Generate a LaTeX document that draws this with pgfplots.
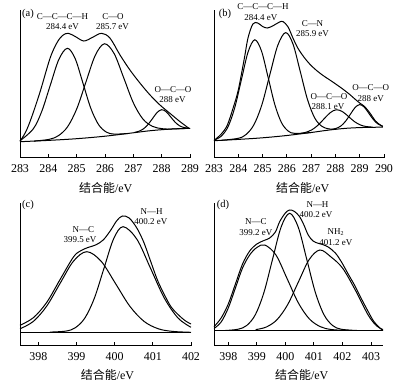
\documentclass[border=0pt]{standalone}
\usepackage{pgfplots}
\pgfplotsset{compat=1.18}
\usepackage{fontspec}
\setmainfont{Liberation Serif}
\newfontfamily\cjk{Noto Sans CJK SC}
\pgfplotsset{
  xps/.style={scale only axis, axis lines=left,
    axis line style={-, line width=1.0bp, black},
    ymin=0, ytick=\empty, xtick distance=1,
    tick align=inside, major tick length=4bp,
    every tick/.style={black, line width=0.9bp},
    xticklabel style={font=\fontsize{12}{12}\selectfont, yshift=-3bp},
    /pgf/number format/assume math mode=true,
    /pgf/number format/1000 sep={},
    anchor=south west, clip=false},
  c/.style={black, mark=none, smooth, tension=0.55, line width=1.0bp, solid},
}
\begin{document}
\begin{tikzpicture}
\path[use as bounding box] (0bp,0bp) rectangle (404bp,388bp);
% ---------------- (a)
\begin{axis}[xps, at={(20bp,230bp)}, width=170bp, height=148bp, xmin=283, xmax=289, ymax=148]
\addplot[c] coordinates {(283,16.3)(284,17.6)(285,19.3)(286,21.8)(287,25.2)(287.5,27.0)(288,28.3)(288.5,29.2)(289,29.7)};
\addplot[c] coordinates {(283.0,17.2)(283.47,29.2)(283.77,46.8)(284.07,72.9)(284.37,98.5)(284.67,109.7)(284.945,99.5)(285.22,75.05)(285.495,50)(285.77,33.5)(286.045,25.95)(286.32,23.9)(286.8,24.5)};
\addplot[c] coordinates {(283.5,16.95)(284.03,18.65)(284.355,22.3)(284.68,31.25)(285.005,49.3)(285.33,76.2)(285.655,102.55)(285.98,114.25)(286.32,104.5)(286.66,80.2)(287.0,55.2)(287.34,38.9)(287.68,31.6)(288.02,29.3)(288.36,29.0)(289,29.7)};
\addplot[c] coordinates {(287.04,25.55)(287.2,26.8)(287.36,29.2)(287.52,33.55)(287.68,39.55)(287.84,45.55)(288.0,48.3)(288.16,46.25)(288.32,41.0)(288.48,35.65)(288.64,32.05)(288.8,30.4)(288.96,29.85)};
\addplot[c] coordinates {(283.0,16.8)(283.2,26)(283.4,40)(283.71,66.3)(284.06,99.7)(284.3,115)(284.5,122.5)(284.7,124.7)(284.95,121.5)(285.25,117)(285.55,120.5)(285.88,124.7)(286.18,119.7)(286.53,103)(286.88,88)(287.24,74.7)(287.59,63)(287.94,53)(288.29,44.7)(288.65,36.3)(288.96,29.7)};
\end{axis}
% ---------------- (b)
\begin{axis}[xps, at={(214bp,230bp)}, width=170bp, height=148bp, xmin=283, xmax=290, ymax=148]
\addplot[c] coordinates {(283,17.3)(284,18.6)(285,20.2)(286,22.5)(287,25.5)(287.5,27.2)(288,28.7)(288.5,29.8)(289,30.4)(289.5,30.7)(289.95,30.8)};
\addplot[c] coordinates {(283.03,18.0)(283.305,22.0)(283.58,31.35)(283.855,50.4)(284.13,78.5)(284.405,106.15)(284.68,118.2)(284.955,107.0)(285.23,80.45)(285.505,53.35)(285.78,35.3)(286.055,26.95)(286.33,24.6)(287,25.5)};
\addplot[c] coordinates {(283.3,17.7)(284.0,19.7)(284.325,23.6)(284.65,33.55)(284.975,53.55)(285.3,83.4)(285.625,112.55)(285.95,125.4)(286.25,114.15)(286.55,86.65)(286.85,58.45)(287.15,39.9)(287.45,31.55)(287.75,29.05)(288.05,28.8)};
\addplot[c] coordinates {(286.53,24.3)(286.78,25.7)(287.03,28.2)(287.28,32.75)(287.53,39.1)(287.78,45.2)(288.03,48.25)(288.28,46.5)(288.53,41.65)(288.78,36.45)(289.03,33.0)(289.28,31.4)(289.53,30.9)};
\addplot[c] coordinates {(287.86,28.55)(288.05,29.8)(288.24,32.3)(288.43,37.15)(288.62,43.9)(288.81,50.5)(289.0,53.4)(289.19,50.8)(289.38,44.55)(289.57,38.2)(289.76,33.85)(289.95,31.8)};
\addplot[c] coordinates {(283.0,17.6)(283.3,24)(283.55,33)(283.8,51)(284.0,68)(284.25,99.7)(284.4,120)(284.6,134)(284.8,135)(285.0,131.5)(285.2,130)(285.45,132.5)(285.7,136)(285.85,136.3)(286.05,131)(286.25,120)(286.45,110)(286.7,101)(286.94,94)(287.2,88)(287.49,82.5)(287.8,77.5)(288.04,73.5)(288.3,69)(288.59,63.5)(288.8,59)(289.0,55)(289.2,51.5)(289.42,45)(289.65,37)(289.85,33)(289.95,31.5)};
\end{axis}
% ---------------- (c)
\begin{axis}[xps, at={(20bp,42bp)}, width=171bp, height=143bp, xmin=397.52, xmax=402, ymax=143]
\addplot[c] coordinates {(397.52,13.7)(402,13.7)};
\addplot[c] coordinates {(397.52,17.2)(397.87,24.6)(398.22,39.9)(398.57,62.6)(398.92,84.8)(399.27,94.3)(399.645,84.8)(400.02,62.6)(400.395,39.9)(400.77,24.6)(401.145,17.2)(401.52,14.6)(402,13.7)};
\addplot[c] coordinates {(398.3,13.9)(398.72,14.9)(398.97,18.3)(399.22,28.0)(399.47,48.0)(399.72,77.7)(399.97,106.9)(400.22,119.3)(400.58,106.9)(400.94,77.7)(401.30,48.0)(401.66,28.0)(402.0,18.7)};
\addplot[c] coordinates {(397.52,20.7)(397.87,28.3)(398.22,43.6)(398.57,66.5)(398.92,89)(399.1,95)(399.3,98.5)(399.5,101)(399.7,106)(399.9,116)(400.05,125)(400.2,130)(400.38,128)(400.58,118)(400.76,104)(400.94,85)(401.12,66)(401.30,51.5)(401.48,39)(401.66,31.5)(401.84,25.5)(402.0,22)};
\end{axis}
% ---------------- (d)
\begin{axis}[xps, at={(214bp,42bp)}, width=169bp, height=143bp, xmin=397.5, xmax=403.42, ymax=143]
\addplot[c] coordinates {(397.5,15.5)(403.42,15.5)};
\addplot[c] coordinates {(397.5,17.5)(397.75,24)(398.0,38)(398.25,58)(398.5,78)(398.75,91)(399.0,98.5)(399.28,101)(399.67,91.0)(400.06,67.4)(400.45,43.3)(400.84,27.1)(401.23,19.25)(401.62,16.45)(402.2,15.5)};
\addplot[c] coordinates {(397.9,15.5)(398.35,16.8)(398.65,20.6)(398.95,31.4)(399.25,53.6)(399.55,86.6)(399.85,118.9)(400.15,132.7)(400.45,118.9)(400.75,86.6)(401.05,53.6)(401.35,31.4)(401.65,20.6)(401.95,16.8)(402.5,15.5)};
\addplot[c] coordinates {(398.96,16.4)(399.335,19.0)(399.71,26.4)(400.085,41.6)(400.46,64.3)(400.835,86.5)(401.21,96)(401.6,89)(402.0,78)(402.43,57)(402.9,31)(403.2,20)(403.42,16.5)};
\addplot[c] coordinates {(397.5,19.3)(397.75,28)(398.0,42)(398.25,62)(398.5,82)(398.75,95)(399.0,102)(399.25,105.5)(399.45,108)(399.65,114)(399.8,124.3)(400.0,133)(400.15,136)(400.32,134.5)(400.5,129.3)(400.65,121)(400.8,111)(400.97,105)(401.15,102.7)(401.3,101.5)(401.5,99)(401.75,93)(401.96,84.3)(402.2,72)(402.43,60.5)(402.65,48)(402.9,34.5)(403.1,24.5)(403.31,18)(403.42,15.5)};
\end{axis}
% ---------------- labels
\begin{scope}[every node/.style={inner sep=0pt, font=\fontsize{9}{9}\selectfont}]
\node[font=\fontsize{10.5}{11}\selectfont] at (28bp,374bp) {(a)};
\node at (62.5bp,371.3bp) {C—C—C—H};
\node at (62.5bp,361bp) {284.4 eV};
\node at (113bp,371.3bp) {C—O};
\node at (112.5bp,361bp) {285.7 eV};
\node at (173bp,298bp) {O—C—O};
\node at (172.5bp,288bp) {288 eV};
\node[font=\fontsize{10.5}{11}\selectfont] at (225bp,374bp) {(b)};
\node at (263bp,381.3bp) {C—C—C—H};
\node at (260.8bp,370.7bp) {284.4 eV};
\node at (312.5bp,364.7bp) {C—N};
\node at (312.5bp,354.7bp) {285.9 eV};
\node at (329bp,291.3bp) {O—C—O};
\node at (328bp,281bp) {288.1 eV};
\node at (370.7bp,300bp) {O—C—O};
\node at (370.8bp,289.7bp) {288 eV};
\node[font=\fontsize{10.5}{11}\selectfont] at (28bp,183bp) {(c)};
\node at (83.3bp,158bp) {N—C};
\node at (80bp,148bp) {399.5 eV};
\node at (151.7bp,176bp) {N—H};
\node at (150.8bp,166bp) {400.2 eV};
\node[font=\fontsize{10.5}{11}\selectfont] at (223bp,183bp) {(d)};
\node at (255.8bp,166bp) {N—C};
\node at (255.8bp,155bp) {399.2 eV};
\node at (317.5bp,183bp) {N—H};
\node at (316bp,173bp) {400.2 eV};
\node at (335.8bp,156bp) {NH\textsubscript{2}};
\node at (335.8bp,145bp) {401.2 eV};
\end{scope}
\begin{scope}[every node/.style={inner sep=0pt, font=\fontsize{12}{12}\selectfont}]
\node at (105.8bp,200bp) {{\cjk 结合能}/eV};
\node at (302.8bp,200bp) {{\cjk 结合能}/eV};
\node at (107.5bp,13bp) {{\cjk 结合能}/eV};
\node at (301.7bp,13bp) {{\cjk 结合能}/eV};
\end{scope}
\end{tikzpicture}
\end{document}
